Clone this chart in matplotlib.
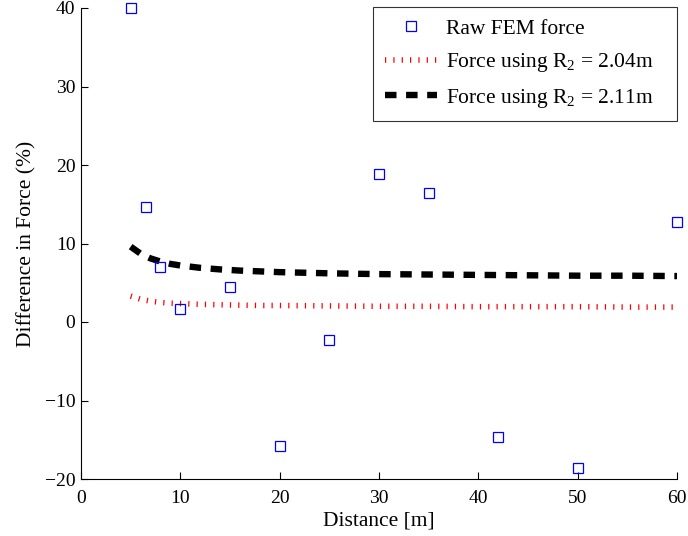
import matplotlib
matplotlib.use("Agg")
import matplotlib.pyplot as plt

plt.rcParams['font.family'] = ['Liberation Serif', 'DejaVu Serif']
plt.rcParams['mathtext.fontset'] = 'custom'
plt.rcParams['mathtext.rm'] = 'Liberation Serif'
plt.rcParams['mathtext.it'] = 'Liberation Serif:italic'

# Raw FEM data
fem_x = [5, 6.5, 8, 10, 15, 20, 25, 30, 35, 42, 50, 60]
fem_y = [40, 14.7, 7.0, 1.6, 4.4, -15.8, -2.3, 18.8, 16.4, -14.7, -18.6, 12.8]

# Model curves
curve_x = [5, 6, 7, 8, 9, 10, 12, 14, 16, 18, 20, 25, 30, 35, 40, 45, 50, 55, 60]
r204_y = [3.3, 2.9, 2.65, 2.5, 2.4, 2.35, 2.25, 2.2, 2.15, 2.1, 2.1, 2.05, 2.0,
          2.0, 1.95, 1.95, 1.95, 1.9, 1.9]
r211_y = [9.6, 8.7, 8.1, 7.7, 7.4, 7.2, 6.9, 6.7, 6.55, 6.45, 6.35, 6.2, 6.1,
          6.05, 6.0, 5.95, 5.9, 5.9, 5.85]

xticks = [0, 10, 20, 30, 40, 50, 60]
yticks = [-20, -10, 0, 10, 20, 30, 40]

fig = plt.figure(figsize=(6.88, 5.36), dpi=100)
ax = fig.add_axes([81/688, 57/536, 596/688, 471/536])

ax.plot(fem_x, fem_y, linestyle='none', marker='s', markersize=6.5,
        markerfacecolor='none', markeredgecolor='#0000ff', markeredgewidth=0.9,
        label='Raw FEM force', clip_on=False, zorder=3)
lw_r = 4.0
ax.plot(curve_x, r204_y, color='#ff0000', linewidth=lw_r,
        dashes=(0.22, 1.28), dash_capstyle='butt',
        label='Force using R$_2$ = 2.04m')
lw_b = 4.6
ax.plot(curve_x, r211_y, color='black', linewidth=lw_b,
        dashes=(1.8, 1.5), dash_capstyle='butt',
        label='Force using R$_2$ = 2.11m')

ax.set_xlim(0, 60)
ax.set_ylim(-20, 40)
ax.set_xticks(xticks)
ax.set_yticks(yticks)
ax.tick_params(direction='in', length=5, labelsize=14, top=False, right=False)
ax.tick_params(axis='x', pad=8)
ax.tick_params(axis='y', pad=4)
ax.spines['top'].set_visible(False)
ax.spines['right'].set_visible(False)
for s in ['left', 'bottom']:
    ax.spines[s].set_linewidth(0.8)

ax.set_xlabel('Distance [m]', fontsize=15.5, labelpad=3)
ax.set_ylabel('Difference in Force (%)', fontsize=15.5, labelpad=6)

leg = ax.legend(loc='upper left', bbox_to_anchor=(0.4899, 0.5, 0.5101, 0.502),
                mode='expand', fontsize=15.5,
                frameon=True, fancybox=False, edgecolor='black',
                handlelength=2.42, handletextpad=0.42, borderpad=0.55,
                labelspacing=0.57, borderaxespad=0.0)
leg.get_frame().set_linewidth(0.8)

fig.savefig('out.png', dpi=100)
